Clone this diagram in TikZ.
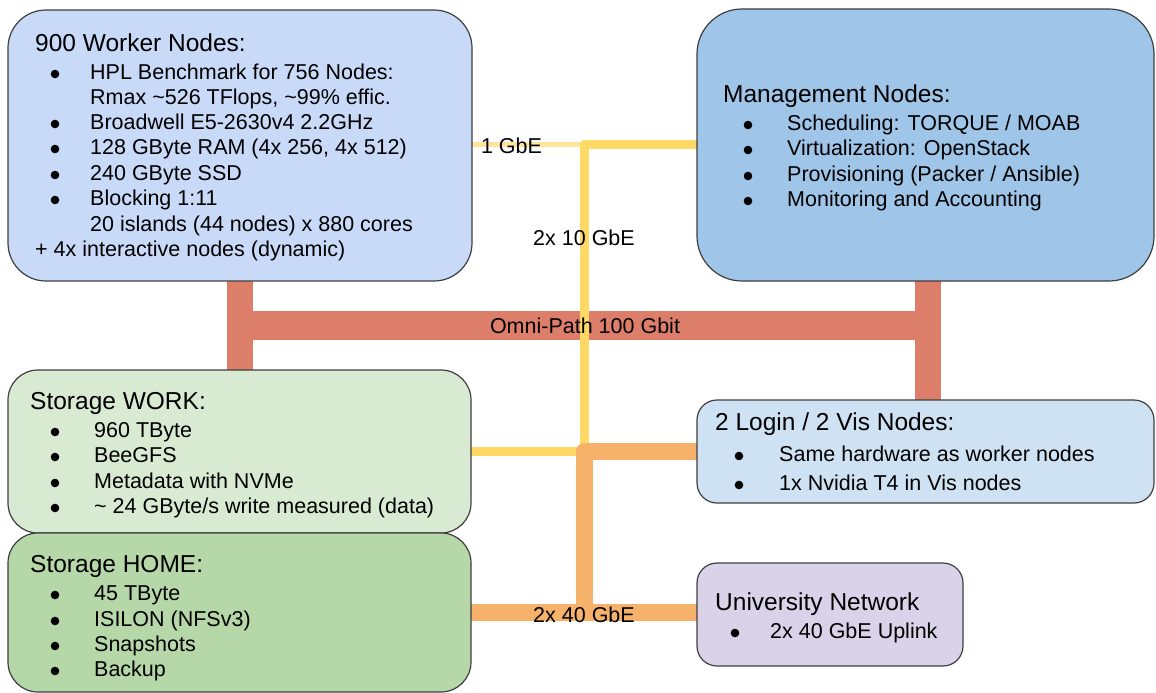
\documentclass[tikz,border=0pt]{standalone}
\usepackage{fontspec}
\setmainfont{Liberation Sans}
\definecolor{cworker}{HTML}{C9DAF8}
\definecolor{cmgmt}{HTML}{9FC5E8}
\definecolor{cwork}{HTML}{D9EAD3}
\definecolor{chome}{HTML}{B6D7A8}
\definecolor{clogin}{HTML}{CFE2F3}
\definecolor{cuni}{HTML}{D9D2E9}
\definecolor{cred}{HTML}{DD7E6B}
\definecolor{cyel}{HTML}{FFD966}
\definecolor{cpale}{HTML}{FFE599}
\definecolor{corange}{HTML}{F6B26B}
\definecolor{cborder}{HTML}{3F3F3F}
\pgfdeclarelayer{bg}
\pgfsetlayers{bg,main}
\newcommand\bitem[5]{\fill[black] (#2,#4-5) circle[radius=4.3pt]; \node[txt] (#1) at (#3,#4) {#5};}
\begin{document}
\begin{tikzpicture}[x=1pt,y=-1pt,
  box/.style={draw=cborder, line width=1.2pt, inner sep=0pt, outer sep=0pt},
  txt/.style={anchor=base west, inner sep=0pt, font=\fontsize{21.5}{25}\selectfont},
  ttl/.style={anchor=base west, inner sep=0pt, font=\fontsize{24.5}{28}\selectfont},
  lbl/.style={anchor=base, inner sep=0pt, font=\fontsize{21.5}{25}\selectfont},
  omni/.style={draw=cred, line cap=butt},
  gbeone/.style={draw=cpale, line width=5pt, line cap=butt},
  gbeten/.style={draw=cyel, line width=9pt, line join=round, line cap=butt},
  gbefour/.style={draw=corange, line width=17pt, line join=round, line cap=butt}]
\useasboundingbox (0,0) rectangle (1156,693);

% boxes
\node[box, fill=cworker, rounded corners=38pt, minimum width=464pt, minimum height=271pt] (worker) at (240,145.5) {};
\node[box, fill=cmgmt, rounded corners=45pt, minimum width=457pt, minimum height=272pt] (mgmt) at (925.5,145) {};
\node[box, fill=cwork, rounded corners=30pt, minimum width=463pt, minimum height=163pt] (work) at (239.5,451.5) {};
\node[box, fill=chome, rounded corners=30pt, minimum width=463pt, minimum height=159pt] (home) at (239.5,612.5) {};
\node[box, fill=clogin, rounded corners=20pt, minimum width=457pt, minimum height=103pt] (login) at (925.5,451.5) {};
\node[box, fill=cuni, rounded corners=20pt, minimum width=266pt, minimum height=103pt] (uni) at (830,614.5) {};

% worker text
\node[ttl] (wt) at (35,52) {900 Worker Nodes:};
\bitem{w1}{55}{90}{79}{HPL Benchmark for 756 Nodes:}
\node[txt] (w1b) at (90,104) {Rmax \textasciitilde526 TFlops, \textasciitilde99\% effic.};
\bitem{w2}{55}{90}{129}{Broadwell E5-2630v4 2.2GHz}
\bitem{w3}{55}{90}{154}{128 GByte RAM (4x 256, 4x 512)}
\bitem{w4}{55}{90}{180}{240 GByte SSD}
\bitem{w5}{55}{90}{205}{Blocking 1:11}
\node[txt] (w5b) at (90,231) {20 islands (44 nodes) x 880 cores};
\node[txt] (w6) at (35,256) {+ 4x interactive nodes (dynamic)};

% management text
\node[ttl] (mt) at (723,102) {Management Nodes:};
\bitem{m1}{748}{787}{130}{Scheduling: TORQUE / MOAB}
\bitem{m2}{748}{787}{155}{Virtualization: OpenStack}
\bitem{m3}{748}{787}{181}{Provisioning (Packer / Ansible)}
\bitem{m4}{748}{787}{206}{Monitoring and Accounting}

% storage work
\node[ttl] (st) at (30,409) {Storage WORK:};
\bitem{s1}{55}{94}{437}{960 TByte}
\bitem{s2}{55}{94}{462}{BeeGFS}
\bitem{s3}{55}{94}{488}{Metadata with NVMe}
\bitem{s4}{55}{94}{513}{\textasciitilde{} 24 GByte/s write measured (data)}

% storage home
\node[ttl] (ht) at (30,572) {Storage HOME:};
\bitem{h1}{55}{94}{600}{45 TByte}
\bitem{h2}{55}{94}{626}{ISILON (NFSv3)}
\bitem{h3}{55}{94}{651}{Snapshots}
\bitem{h4}{55}{94}{676}{Backup}

% login
\node[ttl] (lt) at (715,430) {2 Login / 2 Vis Nodes:};
\bitem{l1}{739}{779}{461}{Same hardware as worker nodes}
\bitem{l2}{739}{779}{490}{1x Nvidia T4 in Vis nodes}

% university
\node[ttl] (ut) at (715,610) {University Network};
\bitem{u1}{735}{770}{638}{2x 40 GbE Uplink}

% junctions
\coordinate (omL) at (240,325.5);
\coordinate (omR) at (928,325.5);
\coordinate (ysw) at (584,144);
\coordinate (osw) at (584,451.5);

\begin{pgfonlayer}{bg}
  \fill[white] (0,0) rectangle (1156,693);
  \draw[omni, line width=26pt] (worker.south -| omL) -- (work.north -| omL);
  \draw[omni, line width=26pt] (mgmt.south -| omR) -- (login.north -| omR);
  \draw[omni, line width=29pt] ([xshift=-13pt]omL) -- ([xshift=13pt]omR);
  \draw[gbeone] (worker.east |- ysw) -- (ysw);
  \draw[gbeten] (mgmt.west |- ysw) -- (ysw) -- (ysw |- work.east) -- (work.east);
  \draw[gbefour] (login.west |- osw) -- (osw) -- (osw |- home.east);
  \draw[gbefour] (home.east) -- (uni.west |- home.east);
\end{pgfonlayer}

% labels
\node[lbl] (l1g) at (511.5,153) {1 GbE};
\node[lbl] (l10g) at (584,245) {2x 10 GbE};
\node[lbl] (lomni) at (585,333) {Omni-Path 100 Gbit};
\node[lbl] (l40g) at (584,622) {2x 40 GbE};
\end{tikzpicture}
\end{document}
